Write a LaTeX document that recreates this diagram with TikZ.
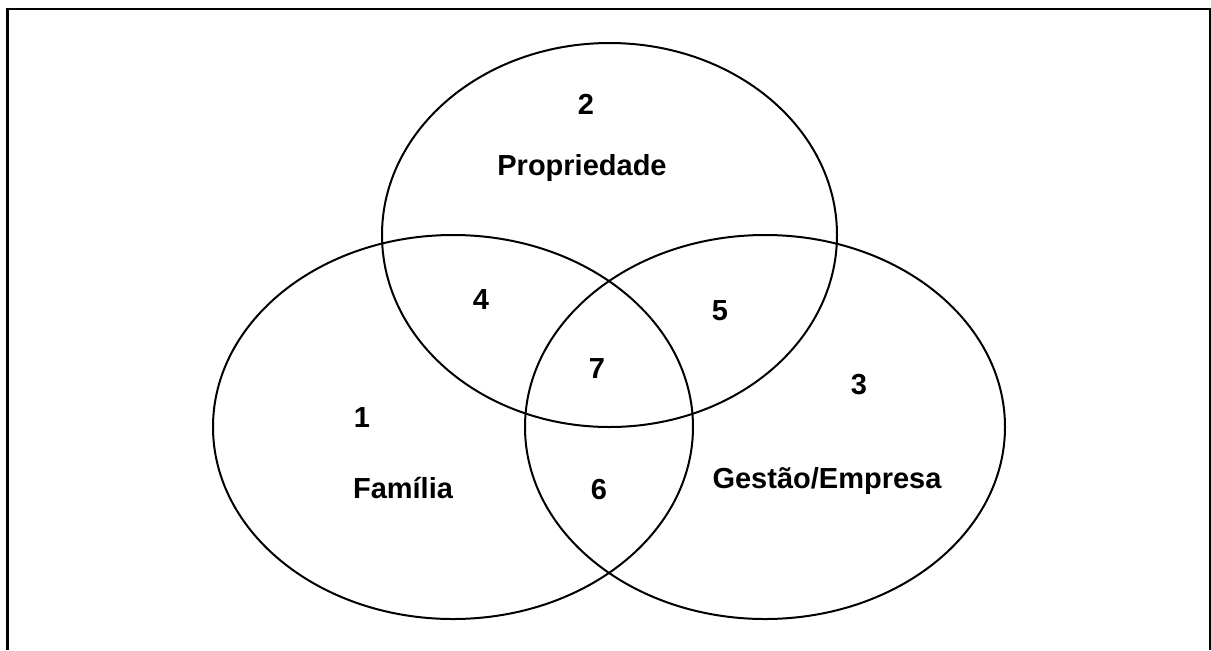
\documentclass[tikz,border=0pt]{standalone}
\usepackage{fontspec}
\setmainfont{Liberation Sans}
\usetikzlibrary{ shapes.geometric, % For the ellipse shape
               }
\tikzstyle{set} = [ellipse, draw=black, line width=1pt, inner sep=0pt]
\tikzstyle{region} = [font=\bfseries\fontsize{14.5}{17}\selectfont, anchor=base, inner sep=0pt]
\tikzstyle{frame} = [draw=black, line width=1.4pt]

\begin{document}
\begin{tikzpicture}[x=0.5pt, y=-0.5pt]
  \useasboundingbox (0, 0) rectangle (1211, 650);
  \draw [frame] (7.5, 650) -- (7.5, 9) -- (1210, 9) -- (1210, 650);

  % the three sets
  \node (prop) [set, minimum width=227.5pt, minimum height=192pt] at (609.5, 235) {};
  \node (fam) [set, minimum width=240pt, minimum height=192pt] at (453, 427) {};
  \node (gest) [set, minimum width=240pt, minimum height=192pt] at (765, 427) {};

  % regions
  \node (r2) [region] at (586, 114) {2};
  \node (lprop) [region] at (582, 175) {Propriedade};
  \node (r4) [region] at (481, 309) {4};
  \node (r5) [region] at (720, 320) {5};
  \node (r7) [region] at (597, 378) {7};
  \node (r3) [region] at (859, 394) {3};
  \node (r1) [region] at (362, 427) {1};
  \node (lfam) [region] at (403, 498) {Família};
  \node (r6) [region] at (599, 499) {6};
  \node (lgest) [region] at (827, 488) {Gestão/Empresa};
\end{tikzpicture}
\end{document}
